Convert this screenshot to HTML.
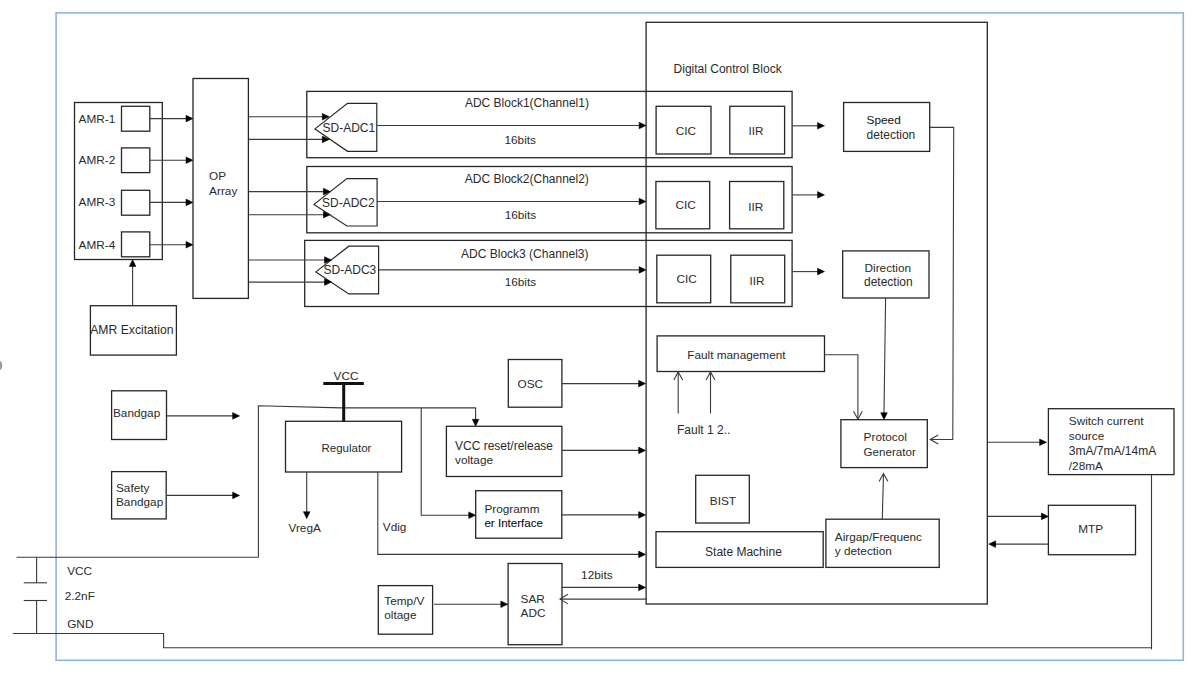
<!DOCTYPE html>
<html><head><meta charset="utf-8"><style>
html,body{margin:0;padding:0;background:#fff;width:1203px;height:681px;overflow:hidden}
svg{display:block}
text{font-family:"Liberation Sans",sans-serif}
</style></head><body>
<svg width="1203" height="681" viewBox="0 0 1203 681">
<rect x="56.1" y="12.9" width="1127.2" height="647.4" fill="none" stroke="#8db4e2" stroke-width="1.6"/>
<rect x="74.5" y="102.5" width="87.8" height="157.0" fill="none" stroke="#262626" stroke-width="1.3"/>
<rect x="121.5" y="106.3" width="28.3" height="24.9" fill="none" stroke="#262626" stroke-width="1.3"/>
<text x="78.6" y="122.8" font-size="11.8" fill="#2a2a2a">AMR-1</text>
<polyline points="149.8,118.6 187.0,118.6" fill="none" stroke="#3a3a3a" stroke-width="1.1"/>
<polygon points="193.0,118.6 186.0,115.3 186.0,121.9" fill="#000" stroke="#000" stroke-width="0.5" stroke-linejoin="round"/>
<rect x="121.5" y="147.9" width="28.3" height="24.7" fill="none" stroke="#262626" stroke-width="1.3"/>
<text x="78.6" y="164.2" font-size="11.8" fill="#2a2a2a">AMR-2</text>
<polyline points="149.8,160.2 187.0,160.2" fill="none" stroke="#3a3a3a" stroke-width="1.1"/>
<polygon points="193.0,160.2 186.0,156.9 186.0,163.5" fill="#000" stroke="#000" stroke-width="0.5" stroke-linejoin="round"/>
<rect x="121.5" y="190.3" width="28.3" height="24.9" fill="none" stroke="#262626" stroke-width="1.3"/>
<text x="78.6" y="205.8" font-size="11.8" fill="#2a2a2a">AMR-3</text>
<polyline points="149.8,202.4 187.0,202.4" fill="none" stroke="#3a3a3a" stroke-width="1.1"/>
<polygon points="193.0,202.4 186.0,199.1 186.0,205.7" fill="#000" stroke="#000" stroke-width="0.5" stroke-linejoin="round"/>
<rect x="121.5" y="231.9" width="28.3" height="24.9" fill="none" stroke="#262626" stroke-width="1.3"/>
<text x="78.6" y="248.6" font-size="11.8" fill="#2a2a2a">AMR-4</text>
<polyline points="149.8,244.8 187.0,244.8" fill="none" stroke="#3a3a3a" stroke-width="1.1"/>
<polygon points="193.0,244.8 186.0,241.5 186.0,248.1" fill="#000" stroke="#000" stroke-width="0.5" stroke-linejoin="round"/>
<rect x="193.0" y="78.5" width="55.4" height="219.9" fill="none" stroke="#262626" stroke-width="1.3"/>
<text x="209.1" y="179.8" font-size="11.8" fill="#2a2a2a">OP</text>
<text x="209.1" y="194.6" font-size="11.8" fill="#2a2a2a">Array</text>
<rect x="90.4" y="305.7" width="86.0" height="49.4" fill="none" stroke="#262626" stroke-width="1.3"/>
<text x="90.2" y="334.0" font-size="12.2" fill="#2a2a2a">AMR Excitation</text>
<polyline points="132.6,305.7 132.6,266.0" fill="none" stroke="#3a3a3a" stroke-width="1.1"/>
<polygon points="132.6,259.5 129.3,266.5 135.9,266.5" fill="#000" stroke="#000" stroke-width="0.5" stroke-linejoin="round"/>
<rect x="306.8" y="91.4" width="485.3" height="66.3" fill="none" stroke="#262626" stroke-width="1.3"/>
<rect x="306.8" y="166.5" width="485.3" height="66.3" fill="none" stroke="#262626" stroke-width="1.3"/>
<rect x="304.7" y="240.4" width="487.4" height="66.1" fill="none" stroke="#262626" stroke-width="1.3"/>
<polygon points="315,128.9 347.5,103.4 376.8,103.4 376.8,151.3 347.5,151.3" fill="none" stroke="#262626" stroke-width="1.2"/>
<text x="322.5" y="132.3" font-size="12" fill="#2a2a2a">SD-ADC1</text>
<polygon points="314,204.4 346.9,178.6 377.1,178.6 377.1,226.0 346.9,226.0" fill="none" stroke="#262626" stroke-width="1.2"/>
<text x="322.0" y="207.4" font-size="12" fill="#2a2a2a">SD-ADC2</text>
<polygon points="315.9,271.9 348.8,246.2 378.6,246.2 378.6,293.9 348.8,293.9" fill="none" stroke="#262626" stroke-width="1.2"/>
<text x="323.6" y="274.3" font-size="12" fill="#2a2a2a">SD-ADC3</text>
<polyline points="248.4,116.7 323.3,116.7" fill="none" stroke="#3a3a3a" stroke-width="1.1"/>
<polygon points="329.3,116.7 322.3,113.4 322.3,120.0" fill="#000" stroke="#000" stroke-width="0.5" stroke-linejoin="round"/>
<polyline points="248.4,139.4 323.3,139.4" fill="none" stroke="#3a3a3a" stroke-width="1.1"/>
<polygon points="329.3,139.4 322.3,136.1 322.3,142.7" fill="#000" stroke="#000" stroke-width="0.5" stroke-linejoin="round"/>
<polyline points="248.4,191.6 324.4,191.6" fill="none" stroke="#3a3a3a" stroke-width="1.1"/>
<polygon points="330.4,191.6 323.4,188.3 323.4,194.9" fill="#000" stroke="#000" stroke-width="0.5" stroke-linejoin="round"/>
<polyline points="248.4,214.7 324.4,214.7" fill="none" stroke="#3a3a3a" stroke-width="1.1"/>
<polygon points="330.4,214.7 323.4,211.4 323.4,218.0" fill="#000" stroke="#000" stroke-width="0.5" stroke-linejoin="round"/>
<polyline points="248.4,260.0 325.5,260.0" fill="none" stroke="#3a3a3a" stroke-width="1.1"/>
<polygon points="331.5,260.0 324.5,256.7 324.5,263.3" fill="#000" stroke="#000" stroke-width="0.5" stroke-linejoin="round"/>
<polyline points="248.4,282.1 325.5,282.1" fill="none" stroke="#3a3a3a" stroke-width="1.1"/>
<polygon points="331.5,282.1 324.5,278.8 324.5,285.4" fill="#000" stroke="#000" stroke-width="0.5" stroke-linejoin="round"/>
<polyline points="376.8,125.5 640.0,125.5" fill="none" stroke="#3a3a3a" stroke-width="1.1"/>
<polygon points="646.1,125.5 639.1,122.2 639.1,128.8" fill="#000" stroke="#000" stroke-width="0.5" stroke-linejoin="round"/>
<polyline points="377.1,201.5 640.0,201.5" fill="none" stroke="#3a3a3a" stroke-width="1.1"/>
<polygon points="646.1,201.5 639.1,198.2 639.1,204.8" fill="#000" stroke="#000" stroke-width="0.5" stroke-linejoin="round"/>
<polyline points="378.6,269.9 640.0,269.9" fill="none" stroke="#3a3a3a" stroke-width="1.1"/>
<polygon points="646.1,269.9 639.1,266.6 639.1,273.2" fill="#000" stroke="#000" stroke-width="0.5" stroke-linejoin="round"/>
<text x="464.9" y="106.6" font-size="12" fill="#2a2a2a">ADC Block1(Channel1)</text>
<text x="504.5" y="144.0" font-size="11.8" fill="#2a2a2a">16bits</text>
<text x="464.8" y="182.6" font-size="12" fill="#2a2a2a">ADC Block2(Channel2)</text>
<text x="504.7" y="219.0" font-size="11.8" fill="#2a2a2a">16bits</text>
<text x="461.1" y="258.1" font-size="12" fill="#2a2a2a">ADC Block3 (Channel3)</text>
<text x="504.7" y="285.8" font-size="11.8" fill="#2a2a2a">16bits</text>
<rect x="646.1" y="22.3" width="341.2" height="581.7" fill="none" stroke="#262626" stroke-width="1.3"/>
<text x="673.6" y="72.7" font-size="12" fill="#2a2a2a">Digital Control Block</text>
<rect x="656.1" y="106.3" width="54.9" height="47.7" fill="none" stroke="#262626" stroke-width="1.3"/>
<rect x="729.8" y="106.3" width="54.8" height="47.7" fill="none" stroke="#262626" stroke-width="1.3"/>
<text x="675.7" y="134.9" font-size="11.8" fill="#2a2a2a">CIC</text>
<text x="748.4" y="134.9" font-size="11.8" fill="#2a2a2a">IIR</text>
<rect x="655.9" y="181.5" width="53.8" height="47.3" fill="none" stroke="#262626" stroke-width="1.3"/>
<rect x="729.6" y="181.5" width="54.2" height="47.3" fill="none" stroke="#262626" stroke-width="1.3"/>
<text x="675.5" y="208.5" font-size="11.8" fill="#2a2a2a">CIC</text>
<text x="748.2" y="210.8" font-size="11.8" fill="#2a2a2a">IIR</text>
<rect x="656.8" y="255.2" width="53.9" height="47.6" fill="none" stroke="#262626" stroke-width="1.3"/>
<rect x="730.8" y="255.2" width="53.9" height="47.6" fill="none" stroke="#262626" stroke-width="1.3"/>
<text x="676.4" y="283.0" font-size="11.8" fill="#2a2a2a">CIC</text>
<text x="749.4" y="284.8" font-size="11.8" fill="#2a2a2a">IIR</text>
<polyline points="792.1,125.8 818.0,125.8" fill="none" stroke="#3a3a3a" stroke-width="1.1"/>
<polygon points="824.5,125.8 817.5,122.5 817.5,129.1" fill="#000" stroke="#000" stroke-width="0.5" stroke-linejoin="round"/>
<polyline points="792.1,194.9 818.0,194.9" fill="none" stroke="#3a3a3a" stroke-width="1.1"/>
<polygon points="824.5,194.9 817.5,191.6 817.5,198.2" fill="#000" stroke="#000" stroke-width="0.5" stroke-linejoin="round"/>
<polyline points="792.1,271.6 818.0,271.6" fill="none" stroke="#3a3a3a" stroke-width="1.1"/>
<polygon points="824.5,271.6 817.5,268.3 817.5,274.9" fill="#000" stroke="#000" stroke-width="0.5" stroke-linejoin="round"/>
<rect x="843.6" y="102.5" width="86.1" height="48.9" fill="none" stroke="#262626" stroke-width="1.3"/>
<text x="866.6" y="124.3" font-size="11.8" fill="#111">Speed</text>
<text x="866.6" y="138.9" font-size="12" fill="#2a2a2a">detection</text>
<rect x="842.7" y="250.9" width="86.3" height="47.1" fill="none" stroke="#262626" stroke-width="1.3"/>
<text x="864.5" y="271.8" font-size="11.8" fill="#2a2a2a">Direction</text>
<text x="864.0" y="285.5" font-size="12" fill="#2a2a2a">detection</text>
<polyline points="929.7,127.4 953.7,127.4 952.8,439.5 930.2,439.5" fill="none" stroke="#3a3a3a" stroke-width="1.1"/>
<polyline points="938.2,435.1 930.2,439.5 938.2,443.9" fill="none" stroke="#3a3a3a" stroke-width="1.1"/>
<polyline points="885.6,298.0 884.0,413.0" fill="none" stroke="#3a3a3a" stroke-width="1.1"/>
<polygon points="884.0,419.7 880.7,412.7 887.3,412.7" fill="#000" stroke="#000" stroke-width="0.5" stroke-linejoin="round"/>
<rect x="657.1" y="335.9" width="167.4" height="35.6" fill="none" stroke="#262626" stroke-width="1.3"/>
<text x="687.2" y="358.8" font-size="11.8" fill="#2a2a2a">Fault management</text>
<polyline points="824.5,354.7 857.9,354.7 857.9,419.2" fill="none" stroke="#3a3a3a" stroke-width="1.1"/>
<polyline points="853.5,411.2 857.9,419.2 862.3,411.2" fill="none" stroke="#3a3a3a" stroke-width="1.1"/>
<polyline points="678.2,413.4 678.2,372.0" fill="none" stroke="#3a3a3a" stroke-width="1.1"/>
<polyline points="673.8,380.0 678.2,372.0 682.6,380.0" fill="none" stroke="#3a3a3a" stroke-width="1.1"/>
<polyline points="710.5,413.4 710.5,372.0" fill="none" stroke="#3a3a3a" stroke-width="1.1"/>
<polyline points="706.1,380.0 710.5,372.0 714.9,380.0" fill="none" stroke="#3a3a3a" stroke-width="1.1"/>
<text x="677.0" y="433.7" font-size="12" fill="#2a2a2a">Fault 1 2..</text>
<rect x="840.9" y="419.7" width="86.4" height="47.9" fill="none" stroke="#262626" stroke-width="1.3"/>
<text x="863.6" y="440.6" font-size="11.8" fill="#2a2a2a">Protocol</text>
<text x="863.6" y="455.6" font-size="11.6" fill="#2a2a2a">Generator</text>
<rect x="695.7" y="475.3" width="53.6" height="47.7" fill="none" stroke="#262626" stroke-width="1.3"/>
<text x="709.8" y="505.1" font-size="11.8" fill="#2a2a2a">BIST</text>
<rect x="656.0" y="531.7" width="167.2" height="35.7" fill="none" stroke="#262626" stroke-width="1.3"/>
<text x="705.1" y="555.7" font-size="12" fill="#2a2a2a">State Machine</text>
<rect x="825.9" y="519.2" width="113.3" height="48.2" fill="none" stroke="#262626" stroke-width="1.3"/>
<text x="834.8" y="540.6" font-size="11.8" fill="#2a2a2a">Airgap/Frequenc</text>
<text x="834.8" y="555.2" font-size="11.8" fill="#2a2a2a">y detection</text>
<polyline points="882.3,519.2 883.5,473.6" fill="none" stroke="#3a3a3a" stroke-width="1.1"/>
<polyline points="879.1,481.6 883.5,473.6 887.9,481.6" fill="none" stroke="#3a3a3a" stroke-width="1.1"/>
<polyline points="987.3,442.3 1041.0,442.3" fill="none" stroke="#3a3a3a" stroke-width="1.1"/>
<polygon points="1046.6,442.3 1039.6,439.0 1039.6,445.6" fill="#000" stroke="#000" stroke-width="0.5" stroke-linejoin="round"/>
<rect x="1048.4" y="408.7" width="125.6" height="65.9" fill="none" stroke="#262626" stroke-width="1.3"/>
<text x="1068.8" y="424.9" font-size="11.8" fill="#2a2a2a">Switch current</text>
<text x="1068.8" y="439.7" font-size="11.8" fill="#2a2a2a">source</text>
<text x="1068.8" y="454.7" font-size="12" fill="#2a2a2a">3mA/7mA/14mA</text>
<text x="1068.8" y="469.5" font-size="11.8" fill="#2a2a2a">/28mA</text>
<rect x="1048.4" y="505.3" width="87.1" height="49.4" fill="none" stroke="#262626" stroke-width="1.3"/>
<text x="1078.2" y="533.2" font-size="11.8" fill="#2a2a2a">MTP</text>
<polyline points="987.3,516.4 1042.0,516.4" fill="none" stroke="#3a3a3a" stroke-width="1.1"/>
<polygon points="1048.4,516.4 1041.4,513.1 1041.4,519.7" fill="#000" stroke="#000" stroke-width="0.5" stroke-linejoin="round"/>
<polyline points="1048.4,544.1 994.0,544.1" fill="none" stroke="#3a3a3a" stroke-width="1.1"/>
<polygon points="988.7,544.1 995.7,540.8 995.7,547.4" fill="#000" stroke="#000" stroke-width="0.5" stroke-linejoin="round"/>
<polyline points="1151.5,649.3 1151.5,474.6" fill="none" stroke="#3a3a3a" stroke-width="1.1"/>
<polyline points="1151.5,647.8 163.6,647.8 163.6,633.5 12.9,633.5" fill="none" stroke="#3a3a3a" stroke-width="1.1"/>
<polyline points="16.6,557.2 258.4,557.2 258.4,405.8 341.3,407.9 475.6,407.9 475.6,420.0" fill="none" stroke="#3a3a3a" stroke-width="1.1"/>
<polygon points="475.6,426.3 472.3,419.3 478.9,419.3" fill="#000" stroke="#000" stroke-width="0.5" stroke-linejoin="round"/>
<polyline points="421.2,407.9 421.2,515.2 469.5,515.2" fill="none" stroke="#3a3a3a" stroke-width="1.1"/>
<polygon points="475.7,515.2 468.7,511.9 468.7,518.5" fill="#000" stroke="#000" stroke-width="0.5" stroke-linejoin="round"/>
<polyline points="36.6,557.2 36.6,582.8" fill="none" stroke="#3a3a3a" stroke-width="1.1"/>
<polyline points="23.7,582.8 47.0,582.8" fill="none" stroke="#3a3a3a" stroke-width="1.1"/>
<polyline points="23.7,600.5 47.0,600.5" fill="none" stroke="#3a3a3a" stroke-width="1.1"/>
<polyline points="36.6,600.5 36.6,633.5" fill="none" stroke="#3a3a3a" stroke-width="1.1"/>
<text x="67.2" y="575.0" font-size="11.8" fill="#2a2a2a">VCC</text>
<text x="64.7" y="599.8" font-size="11.8" fill="#2a2a2a">2.2nF</text>
<text x="67.2" y="627.6" font-size="11.8" fill="#2a2a2a">GND</text>
<rect x="111.6" y="390.8" width="54.9" height="48.7" fill="none" stroke="#262626" stroke-width="1.3"/>
<text x="113.0" y="417.2" font-size="11.8" fill="#2a2a2a">Bandgap</text>
<polyline points="166.5,415.9 233.0,415.9" fill="none" stroke="#3a3a3a" stroke-width="1.1"/>
<polygon points="239.6,415.9 232.6,412.6 232.6,419.2" fill="#000" stroke="#000" stroke-width="0.5" stroke-linejoin="round"/>
<rect x="111.6" y="471.6" width="54.6" height="47.3" fill="none" stroke="#262626" stroke-width="1.3"/>
<text x="116.0" y="492.1" font-size="11.8" fill="#2a2a2a">Safety</text>
<text x="116.0" y="506.2" font-size="11.8" fill="#2a2a2a">Bandgap</text>
<polyline points="166.2,495.4 233.0,495.4" fill="none" stroke="#3a3a3a" stroke-width="1.1"/>
<polygon points="239.6,495.4 232.6,492.1 232.6,498.7" fill="#000" stroke="#000" stroke-width="0.5" stroke-linejoin="round"/>
<rect x="285.5" y="421.3" width="116.1" height="50.7" fill="none" stroke="#262626" stroke-width="1.3"/>
<text x="321.5" y="451.5" font-size="11.5" fill="#2a2a2a">Regulator</text>
<polyline points="323.3,383.4 363.8,383.4" fill="none" stroke="#111" stroke-width="3"/>
<polyline points="343.7,383.4 343.7,421.3" fill="none" stroke="#111" stroke-width="3"/>
<text x="333.6" y="380.3" font-size="11.8" fill="#2a2a2a">VCC</text>
<polyline points="306.7,472.0 306.7,512.0" fill="none" stroke="#3a3a3a" stroke-width="1.1"/>
<polygon points="306.7,518.7 303.4,511.7 310.0,511.7" fill="#000" stroke="#000" stroke-width="0.5" stroke-linejoin="round"/>
<text x="288.5" y="532.2" font-size="11.8" fill="#2a2a2a">VregA</text>
<polyline points="377.8,472.0 377.8,554.4 639.0,554.4" fill="none" stroke="#3a3a3a" stroke-width="1.1"/>
<polygon points="645.6,554.4 638.6,551.1 638.6,557.7" fill="#000" stroke="#000" stroke-width="0.5" stroke-linejoin="round"/>
<text x="382.8" y="530.5" font-size="11.8" fill="#2a2a2a">Vdig</text>
<rect x="508.3" y="359.5" width="53.6" height="47.7" fill="none" stroke="#262626" stroke-width="1.3"/>
<text x="517.5" y="387.9" font-size="11.8" fill="#2a2a2a">OSC</text>
<polyline points="561.9,383.6 639.0,383.6" fill="none" stroke="#3a3a3a" stroke-width="1.1"/>
<polygon points="645.6,383.6 638.6,380.3 638.6,386.9" fill="#000" stroke="#000" stroke-width="0.5" stroke-linejoin="round"/>
<rect x="446.4" y="426.3" width="115.5" height="50.2" fill="none" stroke="#262626" stroke-width="1.3"/>
<text x="455.0" y="450.0" font-size="12" fill="#2a2a2a">VCC reset/release</text>
<text x="455.0" y="464.0" font-size="11.8" fill="#2a2a2a">voltage</text>
<polyline points="561.9,450.4 639.0,450.4" fill="none" stroke="#3a3a3a" stroke-width="1.1"/>
<polygon points="645.6,450.4 638.6,447.1 638.6,453.7" fill="#000" stroke="#000" stroke-width="0.5" stroke-linejoin="round"/>
<rect x="475.7" y="490.7" width="86.1" height="47.5" fill="none" stroke="#262626" stroke-width="1.3"/>
<text x="484.4" y="513.0" font-size="11.8" fill="#2a2a2a">Programm</text>
<text x="484.4" y="526.9" font-size="11.6" fill="#000">er Interface</text>
<polyline points="561.8,514.9 639.0,514.9" fill="none" stroke="#3a3a3a" stroke-width="1.1"/>
<polygon points="645.6,514.9 638.6,511.6 638.6,518.2" fill="#000" stroke="#000" stroke-width="0.5" stroke-linejoin="round"/>
<rect x="508.1" y="563.5" width="53.9" height="81.2" fill="none" stroke="#262626" stroke-width="1.3"/>
<text x="520.6" y="602.6" font-size="11.8" fill="#2a2a2a">SAR</text>
<text x="520.6" y="617.2" font-size="11.8" fill="#2a2a2a">ADC</text>
<text x="581.1" y="578.6" font-size="11.8" fill="#2a2a2a">12bits</text>
<polyline points="562.0,587.4 639.0,587.4" fill="none" stroke="#3a3a3a" stroke-width="1.1"/>
<polygon points="645.6,587.4 638.6,584.1 638.6,590.7" fill="#000" stroke="#000" stroke-width="0.5" stroke-linejoin="round"/>
<polyline points="647.0,599.1 560.0,599.1" fill="none" stroke="#3a3a3a" stroke-width="1.1"/>
<polyline points="568.0,594.3 560.0,599.1 568.0,603.9" fill="none" stroke="#3a3a3a" stroke-width="1.1"/>
<rect x="378.3" y="585.6" width="54.3" height="48.6" fill="none" stroke="#262626" stroke-width="1.3"/>
<text x="384.3" y="604.8" font-size="11.8" fill="#2a2a2a">Temp/V</text>
<text x="384.3" y="618.9" font-size="11.8" fill="#2a2a2a">oltage</text>
<polyline points="434.0,604.3 501.0,604.3" fill="none" stroke="#3a3a3a" stroke-width="1.1"/>
<polygon points="507.8,604.3 500.8,601.0 500.8,607.6" fill="#000" stroke="#000" stroke-width="0.5" stroke-linejoin="round"/>
<ellipse cx="-0.8" cy="365.4" rx="3" ry="4.6" fill="#9a9a9a"/>
</svg>
</body></html>
